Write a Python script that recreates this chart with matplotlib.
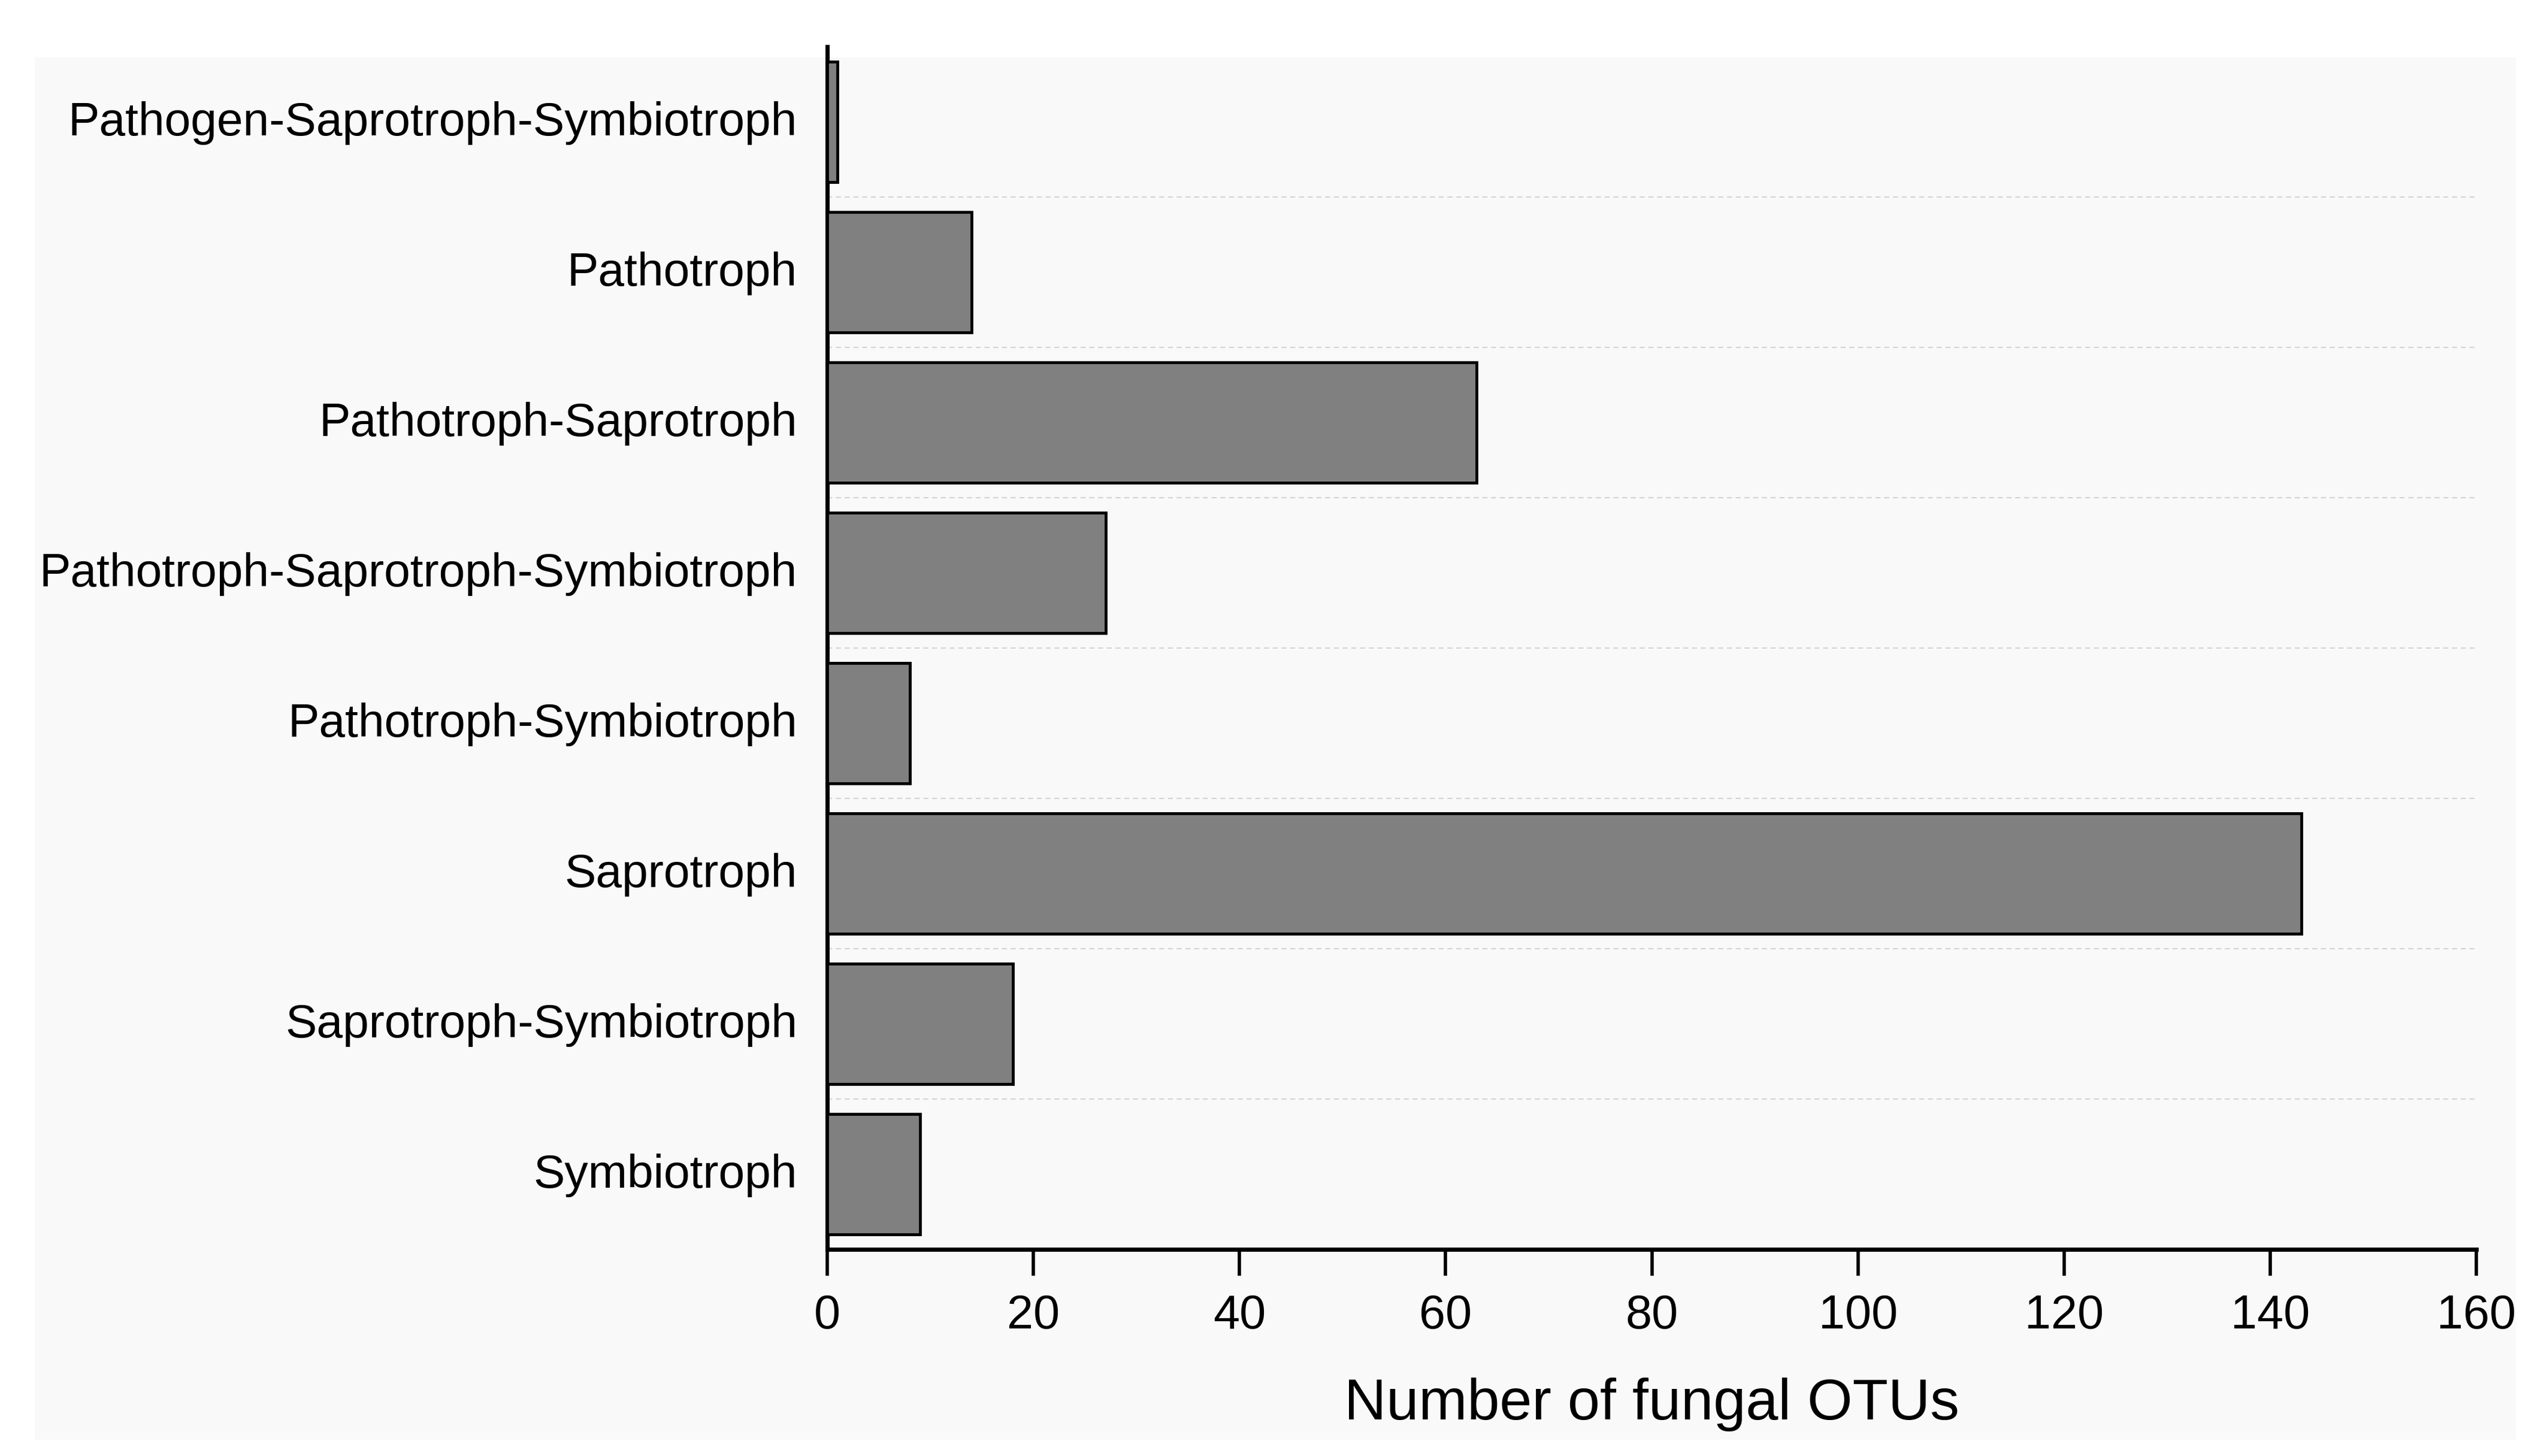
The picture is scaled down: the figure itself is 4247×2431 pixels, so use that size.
import numpy as np
import matplotlib
matplotlib.use("Agg")
import matplotlib.pyplot as plt
from matplotlib.transforms import ScaledTranslation

plt.rcParams['font.family'] = ['Liberation Sans', 'DejaVu Sans']

# Data.
guilds = ["Pathogen-Saprotroph-Symbiotroph", "Pathotroph", "Pathotroph-Saprotroph",
          "Pathotroph-Saprotroph-Symbiotroph", "Pathotroph-Symbiotroph", "Saprotroph",
          "Saprotroph-Symbiotroph", "Symbiotroph"]
otu_counts = [1, 14, 63, 27, 8, 143, 18, 9]
x_ticks = [0, 20, 40, 60, 80, 100, 120, 140, 160]

fig = plt.figure(figsize=(42.47, 24.31), dpi=100)

# light panel behind the plot
bg = fig.add_axes([58 / 4247, 1 - 2404 / 2431, (4200 - 58) / 4247, (2404 - 96) / 2431], zorder=0)
bg.set_facecolor("#f9f9f9")
bg.set_xticks([])
bg.set_yticks([])
for s in bg.spines.values():
    s.set_visible(False)

ax = fig.add_axes([0.3252, 0.1419, 0.9734 - 0.3252, 0.9679 - 0.1419], zorder=1)
ax.set_facecolor("none")

pos = np.arange(len(guilds))
ax.barh(pos, otu_counts, height=0.8, color="#808080", edgecolor="black", linewidth=3.5, zorder=3)

# dashed separators between categories
for y in pos[:-1] + 0.5:
    ax.plot([0, 160], [y, y], color="#d3d3d3", linestyle=(0, (4, 3)), linewidth=1.5, zorder=1)

ax.set_xlim(0, 160)
ax.set_ylim(7.5, -0.5)
ax.set_xticks(x_ticks)
ax.set_yticks(pos)
ax.set_yticklabels(guilds)

for side in ["top", "right"]:
    ax.spines[side].set_visible(False)
ax.spines["left"].set_linewidth(5)
ax.spines["bottom"].set_linewidth(5)
ax.tick_params(axis="x", length=32, width=4, labelsize=57, pad=21)
ax.tick_params(axis="y", length=0, labelsize=56.5, pad=36)

# nudge the category labels up a little
shift = ScaledTranslation(0, 4 / 72, fig.dpi_scale_trans)
for lbl in ax.get_yticklabels():
    lbl.set_transform(lbl.get_transform() + shift)

ax.set_xlabel("Number of fungal OTUs", fontsize=70, labelpad=47)

fig.savefig("out.png", dpi=100, facecolor="white")
